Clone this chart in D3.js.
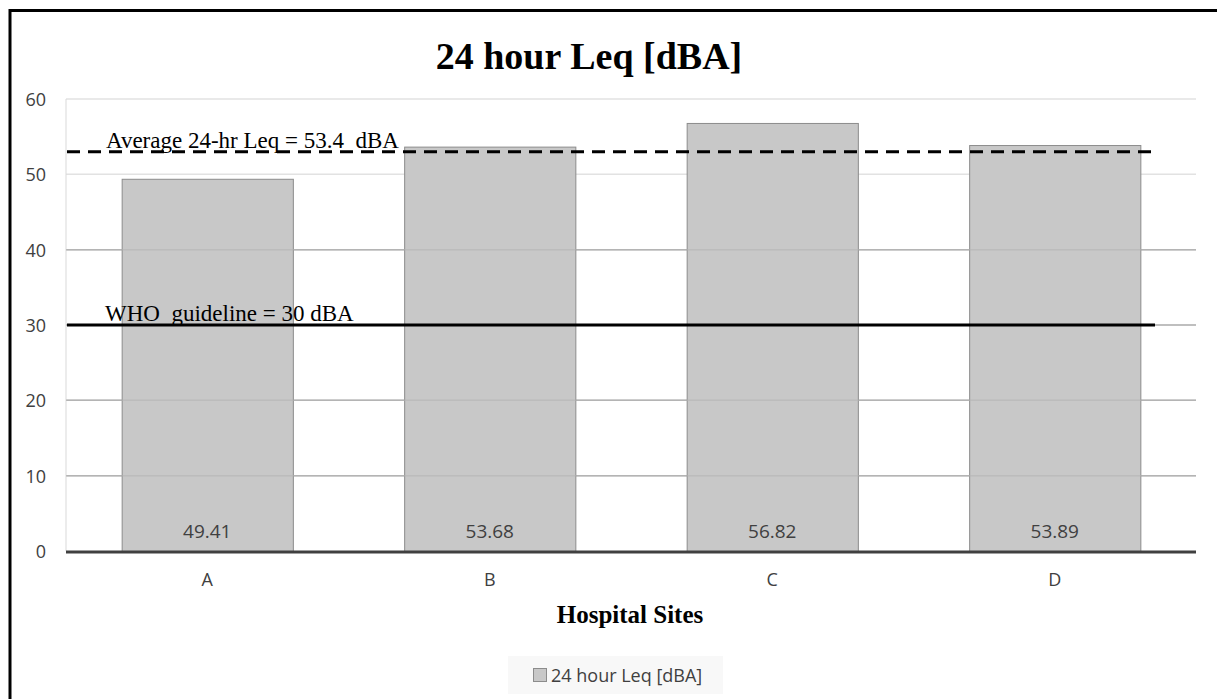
<!DOCTYPE html>
<html>
<head>
<meta charset="utf-8">
<script src="https://cdnjs.cloudflare.com/ajax/libs/d3/7.8.5/d3.min.js"></script>
<style>
  html, body { margin: 0; padding: 0; background: #fff; overflow: hidden; }
  svg { display: block; }
</style>
</head>
<body>
<div id="chart"></div>
<script>
const sites = ['A', 'B', 'C', 'D'];
const leqValues = [49.41, 53.68, 56.82, 53.89];
const yTicks = [0, 10, 20, 30, 40, 50, 60];
const averageLine = 53.0;   // drawn position of the dashed average line
const whoLine = 30;
const averageLabel = 'Average 24-hr Leq = 53.4  dBA';
const whoLabel = 'WHO  guideline = 30 dBA';
const seriesName = '24 hour Leq [dBA]';

const width = 1217;
const height = 699;
const plot = { left: 66, right: 1196, top: 99, bottom: 551 };
const serif = '"Liberation Serif", "Times New Roman", serif';
const sans = '"Open Sans", "Noto Sans", sans-serif';

const svg = d3.select('#chart')
  .append('svg')
  .attr('width', width)
  .attr('height', height);

// Outer frame (right and bottom edges fall outside the picture)
svg.append('rect')
  .attr('x', 10).attr('y', 10.5)
  .attr('width', width + 40).attr('height', height + 40)
  .attr('fill', '#fff')
  .attr('stroke', '#000')
  .attr('stroke-width', 3);

const x = d3.scaleBand()
  .domain(sites)
  .range([plot.left, plot.right])
  .paddingInner(0.394)
  .paddingOuter(0.197);

const y = d3.scaleLinear()
  .domain([0, 60])
  .range([plot.bottom, plot.top]);

// Title
svg.append('text')
  .attr('x', 589).attr('y', 69)
  .attr('text-anchor', 'middle')
  .attr('font-family', serif)
  .attr('font-weight', 'bold')
  .attr('font-size', 38)
  .attr('fill', '#000')
  .text(seriesName);

// Gridlines
svg.append('g')
  .selectAll('line')
  .data(yTicks.filter(d => d > 0))
  .join('line')
  .attr('x1', plot.left).attr('x2', plot.right)
  .attr('y1', d => y(d)).attr('y2', d => y(d))
  .attr('stroke', d => d >= 50 ? '#e2e2e2' : '#b4b4b4')
  .attr('stroke-width', 1.5);

// left edge of plot
svg.append('line')
  .attr('x1', plot.left).attr('x2', plot.left)
  .attr('y1', plot.top).attr('y2', plot.bottom)
  .attr('stroke', '#d9d9d9');

// Bars
svg.append('g')
  .selectAll('rect')
  .data(leqValues)
  .join('rect')
  .attr('x', (d, i) => x(sites[i]) + 0.5)
  .attr('y', d => y(d) + 0.5)
  .attr('width', x.bandwidth())
  .attr('height', d => y(0) - y(d))
  .attr('fill', '#c8c8c8')
  .attr('stroke', '#8c8c8c')
  .attr('stroke-width', 1);

// gridlines seen through bars
svg.append('g')
  .selectAll('line')
  .data(yTicks.filter(d => d > 0 && d < 50))
  .join('line')
  .attr('x1', plot.left).attr('x2', plot.right)
  .attr('y1', d => y(d)).attr('y2', d => y(d))
  .attr('stroke', '#b4b4b4')
  .attr('stroke-opacity', 0.6)
  .attr('stroke-width', 1.5);

// Bar values
svg.append('g')
  .selectAll('text')
  .data(leqValues)
  .join('text')
  .attr('x', (d, i) => x(sites[i]) + x.bandwidth() / 2)
  .attr('y', y(0) - 13)
  .attr('text-anchor', 'middle')
  .attr('font-family', sans)
  .attr('font-size', 19)
  .attr('fill', '#404040')
  .text(d => d.toFixed(2));

// Baseline axis
svg.append('line')
  .attr('x1', plot.left).attr('x2', plot.right)
  .attr('y1', y(0) + 1).attr('y2', y(0) + 1)
  .attr('stroke', '#404040')
  .attr('stroke-width', 3);

// Y axis labels
const yAxis = d3.axisLeft(y).tickValues(yTicks).tickSize(0).tickPadding(0);
const yg = svg.append('g')
  .attr('transform', `translate(${plot.left - 20},0)`)
  .call(yAxis);
yg.select('.domain').remove();
yg.selectAll('text')
  .attr('font-family', sans)
  .attr('font-size', 18)
  .attr('fill', '#404040')
  .attr('dy', '0.36em');

// X axis labels
const xAxis = d3.axisBottom(x).tickSize(0).tickPadding(0);
const xg = svg.append('g')
  .attr('transform', `translate(0,${plot.bottom + 22})`)
  .call(xAxis);
xg.select('.domain').remove();
xg.selectAll('text')
  .attr('font-family', sans)
  .attr('font-size', 18)
  .attr('fill', '#404040')
  .attr('dy', '0.71em');

// Reference lines
const refX1 = plot.left + 1;
const refX2 = 1155;
svg.append('line')
  .attr('x1', refX1).attr('x2', refX2)
  .attr('y1', y(averageLine)).attr('y2', y(averageLine))
  .attr('stroke', '#000')
  .attr('stroke-width', 3)
  .attr('stroke-dasharray', '13,8');

svg.append('line')
  .attr('x1', refX1).attr('x2', refX2)
  .attr('y1', y(whoLine)).attr('y2', y(whoLine))
  .attr('stroke', '#000')
  .attr('stroke-width', 3);

svg.append('text')
  .attr('x', 106).attr('y', y(averageLine) - 4)
  .attr('font-family', serif)
  .attr('font-size', 23)
  .attr('fill', '#000')
  .style('white-space', 'pre')
  .text(averageLabel);

svg.append('text')
  .attr('x', 105).attr('y', y(whoLine) - 4)
  .attr('font-family', serif)
  .attr('font-size', 23)
  .attr('fill', '#000')
  .style('white-space', 'pre')
  .text(whoLabel);

// X axis title
svg.append('text')
  .attr('x', 630).attr('y', 623)
  .attr('text-anchor', 'middle')
  .attr('font-family', serif)
  .attr('font-weight', 'bold')
  .attr('font-size', 25)
  .attr('fill', '#000')
  .text('Hospital Sites');

// Legend
const legend = svg.append('g').attr('transform', 'translate(508,656)');
legend.append('rect')
  .attr('width', 215).attr('height', 38)
  .attr('fill', '#f8f8f8');
legend.append('rect')
  .attr('x', 25.5).attr('y', 12.5)
  .attr('width', 13).attr('height', 13)
  .attr('fill', '#c8c8c8')
  .attr('stroke', '#8c8c8c');
legend.append('text')
  .attr('x', 43).attr('y', 25.5)
  .attr('font-family', sans)
  .attr('font-size', 18)
  .attr('fill', '#404040')
  .text(seriesName);
</script>
</body>
</html>
